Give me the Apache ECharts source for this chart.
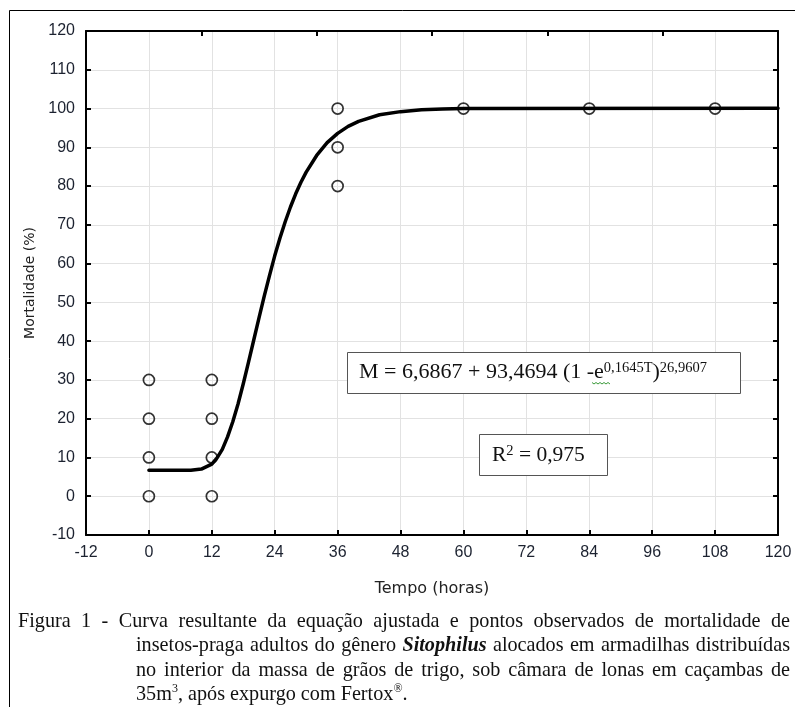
<!DOCTYPE html>
<html>
<head>
<meta charset="utf-8">
<script src="https://cdn.jsdelivr.net/npm/echarts@6/dist/echarts.min.js"></script>
<style>
  html, body { margin:0; padding:0; background:#fff; }
  #wrap { position:relative; width:795px; height:707px; overflow:hidden; }
  #chart { position:absolute; left:0; top:0; width:795px; height:707px; }
  #caption { position:absolute; left:18px; top:608px; width:772px; font-family:"Liberation Serif","Times New Roman",serif; font-size:20.2px; line-height:24.4px; color:#111; }
  #caption div { white-space:nowrap; text-align:justify; text-align-last:justify; }
  #caption div.ind { margin-left:118px; }
  #caption div.last { text-align-last:left; }
</style>
</head>
<body>
<div id="wrap">
  <div id="chart"></div>
  <div id="caption">
    <div>Figura 1 - Curva resultante da equação ajustada e pontos observados de mortalidade de</div>
    <div class="ind">insetos-praga adultos do gênero <b><i>Sitophilus</i></b> alocados em armadilhas distribuídas</div>
    <div class="ind">no interior da massa de grãos de trigo, sob câmara de lonas em caçambas de</div>
    <div class="ind last">35m<sup style="font-size:12px;line-height:0">3</sup>, após expurgo com Fertox<sup style="font-size:12px;line-height:0">®</sup>.</div>
  </div>
</div>
<script>
// Observed points (Tempo in hours, Mortalidade in %)
const obsTime = [0, 0, 0, 0, 12, 12, 12, 12, 36, 36, 36, 60, 84, 108];
const obsMort = [0, 10, 20, 30, 0, 10, 20, 30, 80, 90, 100, 100, 100, 100];

// Fitted curve
const curveTime = [0, 4, 8, 10, 12, 13, 14, 15, 16, 17, 18, 19, 20, 21, 22, 23, 24, 25, 26, 27, 28, 29, 30, 32, 34, 36, 38, 40, 44, 48, 52, 56, 60, 120];
const curveMort = [6.7, 6.7, 6.7, 7.0, 8.3, 9.9, 12.1, 15.3, 19.2, 23.8, 29.0, 34.6, 40.3, 46.0, 51.6, 56.9, 62.0, 66.6, 70.8, 74.6, 78.0, 81.0, 83.6, 87.9, 91.2, 93.6, 95.4, 96.7, 98.4, 99.2, 99.7, 99.9, 100.0, 100.1];

// Axis settings
const xMin = -12, xMax = 120, xStep = 12;
const yMin = -10, yMax = 120, yStep = 10;
const xName = 'Tempo (horas)';
const yName = 'Mortalidade (%)';

const curveData = curveTime.map((t, i) => [t, curveMort[i]]);
const obsData = obsTime.map((t, i) => [t, obsMort[i]]);

const chart = echarts.init(document.getElementById('chart'), null, { renderer: 'canvas' });

const labelStyle = { color: '#1c2230', fontSize: 16, fontFamily: 'Liberation Sans, Arial, sans-serif' };
const frameLine = { show: true, onZero: false, lineStyle: { color: '#000', width: 2 } };
const inTicks = { show: true, inside: true, length: 5, lineStyle: { color: '#000', width: 2 } };
const serif = 'Liberation Serif, Times New Roman, serif';

const option = {
  animation: false,
  backgroundColor: '#fff',
  textStyle: { fontFamily: 'Liberation Sans, Arial, sans-serif' },
  grid: { left: 86, top: 31, width: 692, height: 504, containLabel: false },
  xAxis: [
    {
      type: 'value', min: xMin, max: xMax, interval: xStep, position: 'bottom',
      axisLine: frameLine, axisTick: inTicks,
      axisLabel: Object.assign({ margin: 10 }, labelStyle),
      splitLine: { show: true, lineStyle: { color: '#e2e2e2', width: 1 } },
      name: xName, nameLocation: 'middle', nameGap: 46,
      nameTextStyle: { color: '#222', fontSize: 16, fontFamily: 'DejaVu Sans, sans-serif' }
    },
    {
      type: 'value', min: 0, max: 132, interval: 22, position: 'top',
      axisLine: frameLine, axisTick: inTicks,
      axisLabel: { show: false }, splitLine: { show: false }
    }
  ],
  yAxis: [
    {
      type: 'value', min: yMin, max: yMax, interval: yStep, position: 'left',
      axisLine: frameLine, axisTick: inTicks,
      axisLabel: Object.assign({ margin: 11 }, labelStyle),
      splitLine: { show: true, lineStyle: { color: '#e2e2e2', width: 1 } },
      name: yName, nameLocation: 'middle', nameGap: 48, nameRotate: 90,
      nameTextStyle: { color: '#222', fontSize: 14, fontFamily: 'DejaVu Sans, sans-serif' }
    },
    {
      type: 'value', min: yMin, max: yMax, interval: yStep, position: 'right',
      axisLine: frameLine, axisTick: inTicks,
      axisLabel: { show: false }, splitLine: { show: false }
    }
  ],
  series: [
    {
      type: 'line', data: curveData, xAxisIndex: 0, yAxisIndex: 0,
      showSymbol: false, smooth: false,
      lineStyle: { color: '#000', width: 3.5, join: 'round', cap: 'round' }, z: 2
    },
    {
      type: 'scatter', data: obsData, xAxisIndex: 0, yAxisIndex: 0,
      symbol: 'circle', symbolSize: 11,
      itemStyle: { color: 'rgba(0,0,0,0)', borderColor: '#000', borderWidth: 1.7 }, z: 3
    }
  ],
  graphic: [
    // outer frame
    { type: 'line', shape: { x1: 9.5, y1: 10.5, x2: 795, y2: 10.5 }, style: { stroke: '#000', lineWidth: 1 }, z: 10 },
    { type: 'line', shape: { x1: 9.5, y1: 10.5, x2: 9.5, y2: 707 }, style: { stroke: '#000', lineWidth: 1 }, z: 10 },
    // equation box
    { type: 'rect', shape: { x: 347.5, y: 352.5, width: 393, height: 41 }, style: { fill: '#fff', stroke: '#555', lineWidth: 1 }, z: 10 },
    {
      type: 'text', x: 359, y: 358.5, z: 11,
      style: {
        text: '{m|M = 6,6867 + 93,4694 (1 -e}{s|0,1645T}{m|)}{s|26,9607}',
        rich: {
          m: { fontFamily: serif, fontSize: 22, lineHeight: 27, fill: '#111' },
          s: { fontFamily: serif, fontSize: 14.5, lineHeight: 15, padding: [0, 0, 8, 0], fill: '#111' }
        }
      }
    },
    { type: 'polyline', shape: { points: [[592,382.5],[594,384],[596,382.5],[598,384],[600,382.5],[602,384],[604,382.5],[606,384],[608,382.5],[610,384]] }, style: { stroke: '#3a9a3a', lineWidth: 1, fill: null }, z: 11 },
    // R2 box
    { type: 'rect', shape: { x: 479.5, y: 434.5, width: 128, height: 41 }, style: { fill: '#fff', stroke: '#555', lineWidth: 1 }, z: 10 },
    {
      type: 'text', x: 492, y: 442, z: 11,
      style: {
        text: '{m|R}{s|2}{m| = 0,975}',
        rich: {
          m: { fontFamily: serif, fontSize: 21.5, lineHeight: 27, fill: '#111' },
          s: { fontFamily: serif, fontSize: 14.5, lineHeight: 15, padding: [0, 0, 8, 0], fill: '#111' }
        }
      }
    }
  ]
};
chart.setOption(option);
</script>
</body>
</html>
